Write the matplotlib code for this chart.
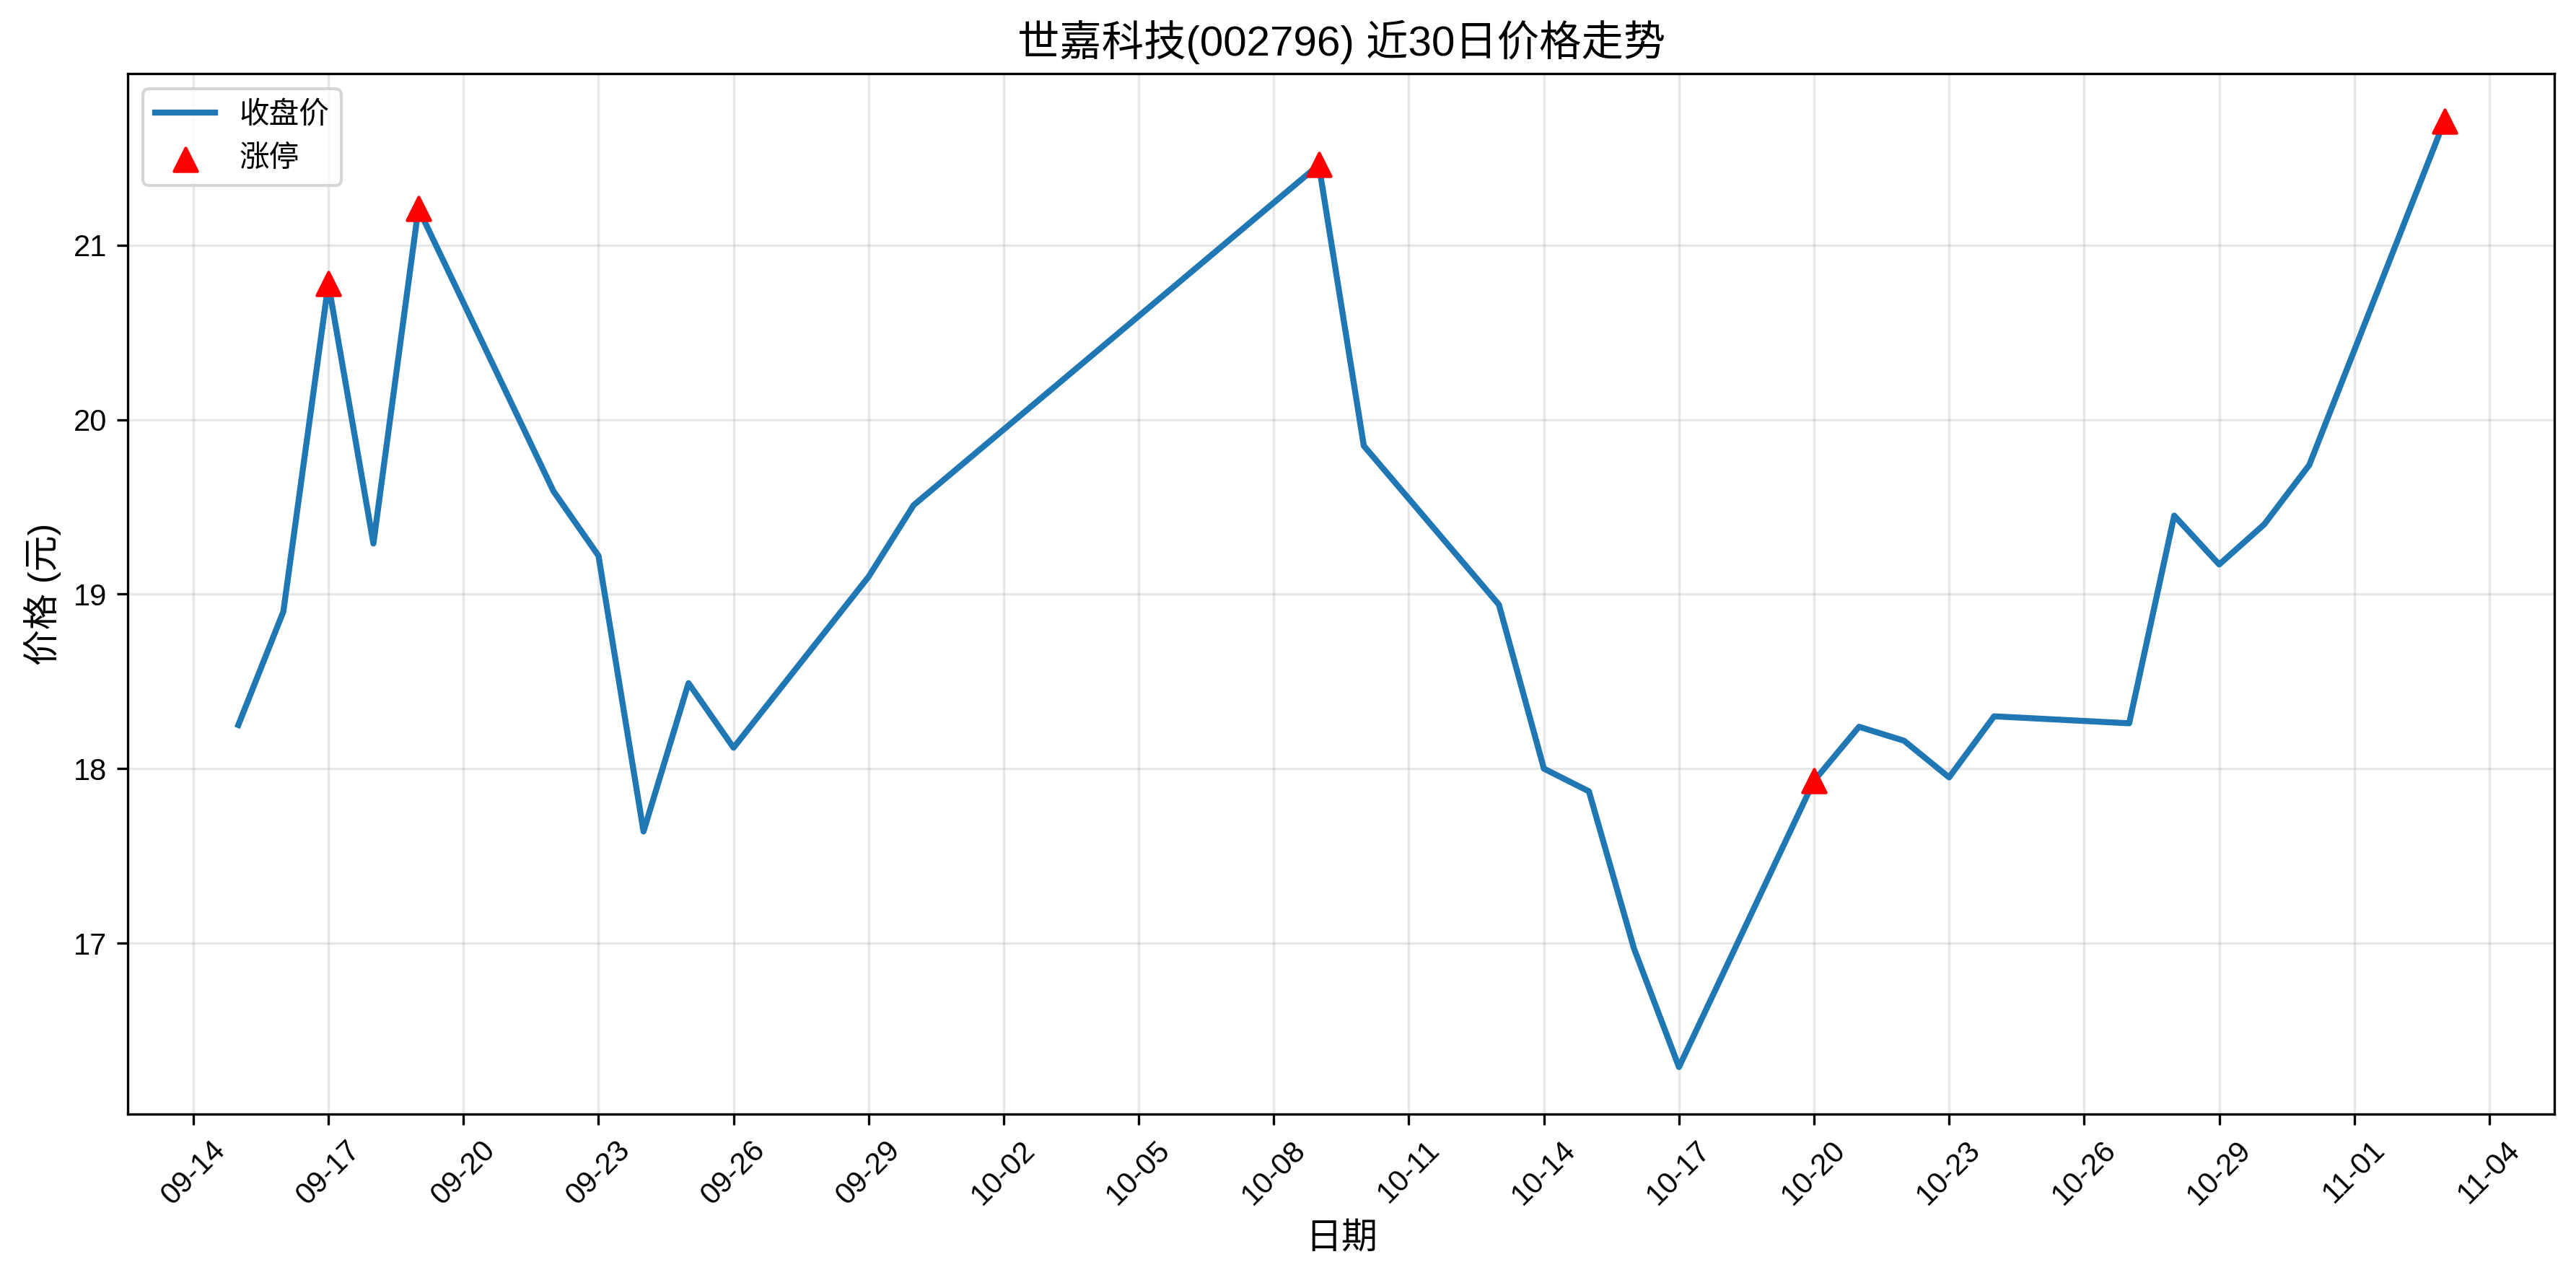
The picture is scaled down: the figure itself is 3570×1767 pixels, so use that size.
import matplotlib
matplotlib.use("Agg")
import matplotlib.pyplot as plt
import matplotlib.dates as mdates
import pandas as pd

plt.rcParams['font.family'] = ['Liberation Sans', 'Noto Sans CJK SC', 'DejaVu Sans']
plt.rcParams['axes.unicode_minus'] = False

dates = ["2025-09-15","2025-09-16","2025-09-17","2025-09-18","2025-09-19","2025-09-22","2025-09-23",
         "2025-09-24","2025-09-25","2025-09-26","2025-09-29","2025-09-30","2025-10-09","2025-10-10",
         "2025-10-13","2025-10-14","2025-10-15","2025-10-16","2025-10-17","2025-10-20","2025-10-21",
         "2025-10-22","2025-10-23","2025-10-24","2025-10-27","2025-10-28","2025-10-29","2025-10-30",
         "2025-10-31","2025-11-03"]
close = [18.25,18.90,20.78,19.29,21.21,19.59,19.22,17.64,18.49,18.12,19.10,19.51,21.46,19.85,
         18.94,18.00,17.87,16.97,16.29,17.93,18.24,18.16,17.95,18.30,18.26,19.45,19.17,19.40,
         19.74,21.71]
limit_dates = ["2025-09-17","2025-09-19","2025-10-09","2025-10-20","2025-11-03"]
limit_prices = [20.78,21.21,21.46,17.93,21.71]

d = pd.to_datetime(dates)
ld = pd.to_datetime(limit_dates)

fig, ax = plt.subplots(figsize=(11.9, 5.89), dpi=300)
ax.plot(d, close, color='#1f77b4', linewidth=2, label='收盘价')
ax.scatter(ld, limit_prices, marker='^', color='red', s=60, zorder=5, label='涨停')
ax.set_title('世嘉科技(002796) 近30日价格走势', fontsize=14)
ax.set_xlabel('日期', fontsize=12)
ax.set_ylabel('价格 (元)', fontsize=12)
ax.set_xticks(pd.date_range("2025-09-14", "2025-11-04", freq="3D"))
ax.xaxis.set_major_formatter(mdates.DateFormatter('%m-%d'))
plt.setp(ax.get_xticklabels(), rotation=45)
ax.grid(True, alpha=0.3)
ax.legend(loc='upper left')
fig.subplots_adjust(left=0.0497, right=0.9917, top=0.942, bottom=0.126)
fig.savefig('out.png', dpi=300)
